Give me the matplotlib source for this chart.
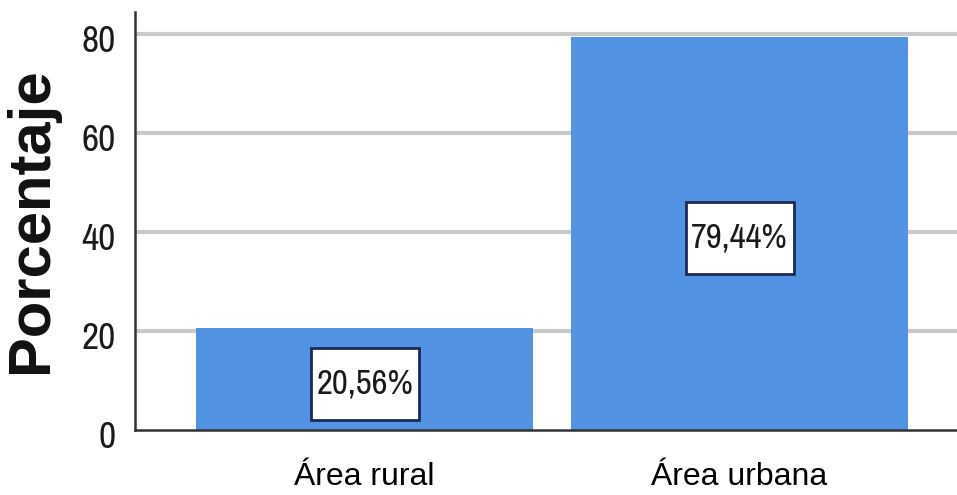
import matplotlib
matplotlib.use("Agg")
import matplotlib.pyplot as plt
import matplotlib.patches as patches
from matplotlib.transforms import ScaledTranslation

# data
categorias = ["Área rural", "Área urbana"]
porcentajes = [20.56, 79.44]
etiquetas = ["20,56%", "79,44%"]
yticks = [0, 20, 40, 60, 80]

bar_color = "#5192e2"
grid_color = "#c9c9c9"
narrow = ["Archivo Narrow", "Roboto Condensed", "Liberation Sans", "DejaVu Sans"]
sans = ["Liberation Sans", "DejaVu Sans"]

fig = plt.figure(figsize=(9.57, 4.95), dpi=100)
ax = fig.add_axes([135 / 957, 65 / 495, 1 - 135 / 957, 418 / 495])

x = list(range(len(categorias)))
ax.bar(x, porcentajes, width=0.9, color=bar_color, zorder=3)

ax.set_xlim(-0.612, 1.58)
ax.set_ylim(0, 84.4)
ax.set_yticks(yticks)
ax.set_yticklabels([str(t) for t in yticks], family=narrow, fontsize=27,
                   color="#1a1a1a")
ax.set_xticks(x)
ax.set_xticklabels(categorias, family=sans, fontsize=23)
ax.tick_params(axis="both", length=0)
ax.tick_params(axis="y", pad=14)
ax.tick_params(axis="x", pad=23)

# y labels sit a few pixels below their gridline in the reference
shift = ScaledTranslation(0, -5 / 100, fig.dpi_scale_trans)
for lbl in ax.get_yticklabels():
    lbl.set_transform(lbl.get_transform() + shift)

for t in yticks[1:]:
    ax.axhline(t, color=grid_color, lw=3, zorder=1)

for s in ["top", "right"]:
    ax.spines[s].set_visible(False)
for s in ["left", "bottom"]:
    ax.spines[s].set_color("#333333")
    ax.spines[s].set_linewidth(1.8)
ax.spines["bottom"].set_zorder(4)

# value boxes (box size in pixels converted to data units)
half_w = 54 / 375
half_h = 36 / (418 / 84.4)
for xi, v, lab in zip(x, porcentajes, etiquetas):
    yc = v / 2 - 0.9
    ax.add_patch(patches.Rectangle((xi - half_w, yc - half_h), 2 * half_w, 2 * half_h,
                                   facecolor="white", edgecolor="#1c2b55",
                                   linewidth=2, zorder=5))
    ax.text(xi, yc, lab, ha="center", va="center", family=narrow,
            fontsize=25, color="#1a1a1a", zorder=6)

fig.text(32 / 957, 1 - 220 / 495, "Porcentaje", rotation=90, ha="center",
         va="center", fontsize=43, fontweight="bold", family=sans,
         color="#111111")

fig.savefig("out.png", dpi=100, facecolor="white")
